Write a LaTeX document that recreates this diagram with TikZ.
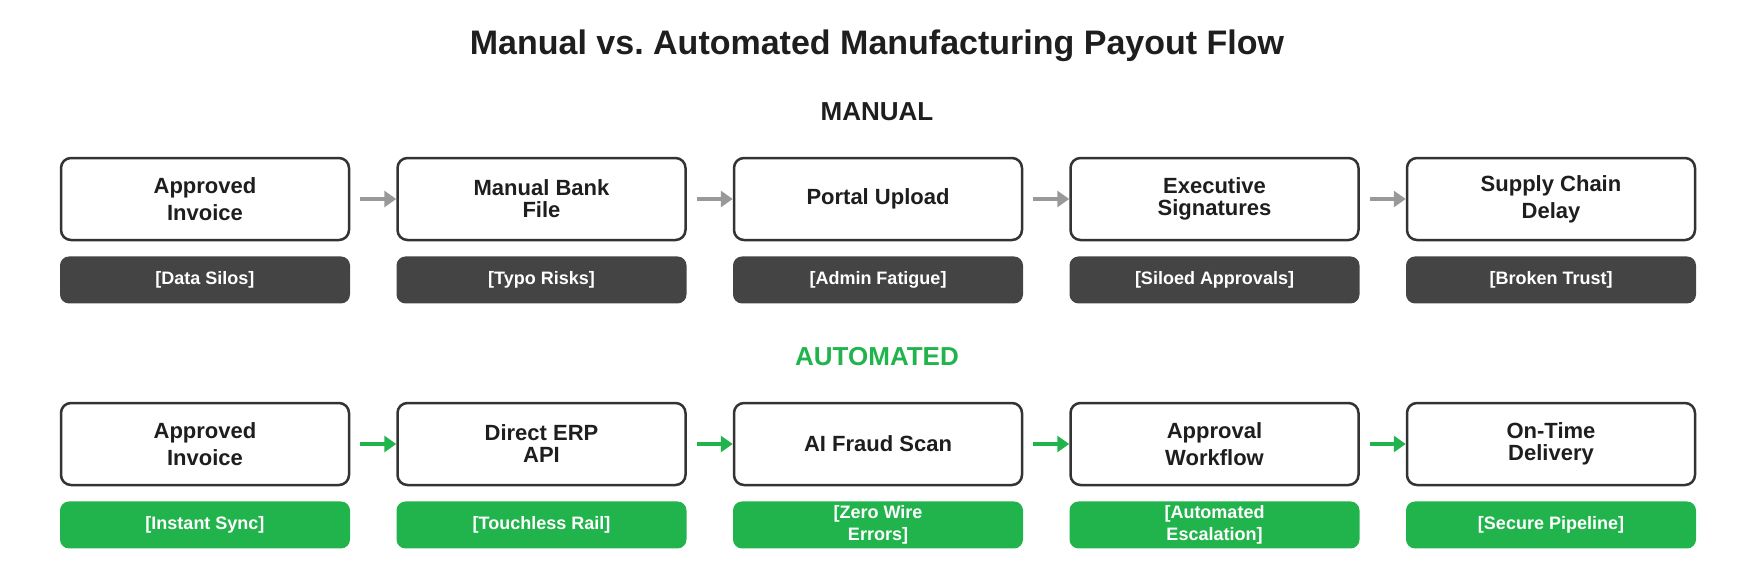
\documentclass[tikz,border=0pt]{standalone}
\usepackage{fontspec}
\setmainfont{Liberation Sans}
\usepackage{xcolor}
\usetikzlibrary{positioning,arrows.meta}

\definecolor{inkdark}{HTML}{1E1E1E}
\definecolor{boxline}{HTML}{333333}
\definecolor{tagdark}{HTML}{444444}
\definecolor{autogreen}{HTML}{22B44C}
\definecolor{arrowgray}{HTML}{999999}

\tikzset{
    stepbox/.style={draw=boxline, line width=2.5pt, rounded corners=10pt, fill=white,
        minimum width=288pt, minimum height=82pt, align=center, text=inkdark,
        font=\fontsize{22}{27}\selectfont\bfseries},
    tagbox/.style={rounded corners=9pt, minimum width=290pt, minimum height=47pt,
        align=center, text=white, font=\fontsize{18}{22}\selectfont\bfseries},
    flow/.style={line width=4.5pt, -{Triangle[length=12pt,width=16pt]}},
}

\begin{document}
\begin{tikzpicture}[x=1pt, y=-1pt, node distance=46pt]
    \useasboundingbox (0,0) rectangle (1754,576);

    \node[text=inkdark, font=\fontsize{34}{40}\selectfont\bfseries] (title) at (877,46) {Manual vs.\ Automated Manufacturing Payout Flow};
    \node[text=inkdark, font=\fontsize{26}{30}\selectfont\bfseries] (manual) at (877,112) {MANUAL};
    \node[text=autogreen, font=\fontsize{26}{30}\selectfont\bfseries] (auto) at (877,357) {AUTOMATED};

    % manual row
    \node[stepbox] (m1) at (205,199) {Approved\\Invoice};
    \node[stepbox, right=of m1] (m2) {Manual Bank\\[-5pt]File};
    \node[stepbox, right=of m2] (m3) {Portal Upload};
    \node[stepbox, right=of m3] (m4) {Executive\\[-5pt]Signatures};
    \node[stepbox, right=of m4] (m5) {Supply Chain\\Delay};

    \node[tagbox, fill=tagdark, below=15pt of m1] (mt1) {[Data Silos]};
    \node[tagbox, fill=tagdark, below=15pt of m2] (mt2) {[Typo Risks]};
    \node[tagbox, fill=tagdark, below=15pt of m3] (mt3) {[Admin Fatigue]};
    \node[tagbox, fill=tagdark, below=15pt of m4] (mt4) {[Siloed Approvals]};
    \node[tagbox, fill=tagdark, below=15pt of m5] (mt5) {[Broken Trust]};

    \draw[flow, arrowgray] ([xshift=10pt]m1.east) -- (m2.west);
    \draw[flow, arrowgray] ([xshift=10pt]m2.east) -- (m3.west);
    \draw[flow, arrowgray] ([xshift=10pt]m3.east) -- (m4.west);
    \draw[flow, arrowgray] ([xshift=10pt]m4.east) -- (m5.west);

    % automated row
    \node[stepbox] (a1) at (205,444) {Approved\\Invoice};
    \node[stepbox, right=of a1] (a2) {Direct ERP\\[-5pt]API};
    \node[stepbox, right=of a2] (a3) {AI Fraud Scan};
    \node[stepbox, right=of a3] (a4) {Approval\\Workflow};
    \node[stepbox, right=of a4] (a5) {On-Time\\[-5pt]Delivery};

    \node[tagbox, fill=autogreen, below=15pt of a1] (at1) {[Instant Sync]};
    \node[tagbox, fill=autogreen, below=15pt of a2] (at2) {[Touchless Rail]};
    \node[tagbox, fill=autogreen, below=15pt of a3] (at3) {[Zero Wire\\Errors]};
    \node[tagbox, fill=autogreen, below=15pt of a4] (at4) {[Automated\\Escalation]};
    \node[tagbox, fill=autogreen, below=15pt of a5] (at5) {[Secure Pipeline]};

    \draw[flow, autogreen] ([xshift=10pt]a1.east) -- (a2.west);
    \draw[flow, autogreen] ([xshift=10pt]a2.east) -- (a3.west);
    \draw[flow, autogreen] ([xshift=10pt]a3.east) -- (a4.west);
    \draw[flow, autogreen] ([xshift=10pt]a4.east) -- (a5.west);
\end{tikzpicture}
\end{document}
